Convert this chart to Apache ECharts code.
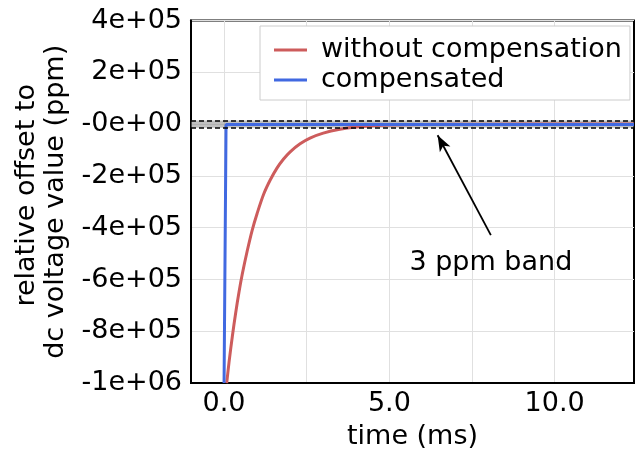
<!DOCTYPE html>
<html lang="en">
  <head>
    <meta charset="UTF-8" />
    <title>relative offset</title>
    <style>
      * {
        padding: 0;
        margin: 0;
      }
      #main {
        width: 636px;
        height: 457px;
        background: #fff;
      }
    </style>
    <script src="https://cdn.jsdelivr.net/npm/echarts@6/dist/echarts.min.js"></script>
  </head>
  <body>
    <div id="main"></div>
    <script type="text/javascript">
      // time (ms) / offset (ppm)
      const redTime = [0.08, 0.15, 0.25, 0.35, 0.45, 0.55, 0.7, 0.85, 1.0, 1.2, 1.4, 1.6, 1.8, 2.0, 2.3, 2.6, 3.0, 3.5, 4.0, 4.5, 5.0, 6.0, 8.0, 10.0, 12.4]
      const redValue = [-1000000, -920000, -820000, -730000, -650000, -580000, -490000, -410000, -345000, -270000, -215000, -170000, -135000, -107000, -76000, -54000, -35000, -20000, -11000, -6500, -3500, -1200, -150, 0, 0]
      const blueTime = [0.0, 0.06, 12.4]
      const blueValue = [-1000000, -2000, -2000]
      const seriesNames = ['without compensation', 'compensated']
      const yTickLabels = ['-1e+06', '-8e+05', '-6e+05', '-4e+05', '-2e+05', '-0e+00', '2e+05', '4e+05']
      const xLabelValues = [0, 5, 10]
      const xGridValues = [0, 2.5, 5, 7.5, 10]
      const band = [-14000, 14000]

      const font = 'DejaVu Sans'
      const chart = echarts.init(document.getElementById('main'))

      const option = {
        animation: false,
        backgroundColor: '#fff',
        grid: {
          left: 191,
          right: 2,
          top: 20.5,
          bottom: 65.3,
          show: true,
          borderColor: '#000',
          borderWidth: 2,
        },
        legend: {
          data: seriesNames,
          orient: 'vertical',
          left: 260,
          top: 26,
          selectedMode: false,
          icon: 'rect',
          itemWidth: 33,
          itemHeight: 3,
          itemGap: 0,
          padding: [9, 8, 5, 14],
          backgroundColor: '#fff',
          borderColor: '#cccccc',
          borderWidth: 1,
          textStyle: {
            fontFamily: font,
            fontSize: 27,
            color: '#000',
            lineHeight: 30,
            padding: [0, 0, 0, 9],
          },
        },
        xAxis: {
          type: 'value',
          min: -1,
          max: 12.4,
          name: 'time (ms)',
          nameLocation: 'middle',
          nameGap: 37,
          nameTextStyle: { fontFamily: font, fontSize: 27, color: '#000', lineHeight: 30 },
          axisLine: { onZero: false, lineStyle: { color: '#000', width: 2 } },
          axisTick: { show: false, customValues: xGridValues },
          axisLabel: {
            customValues: xLabelValues,
            margin: 7,
            fontFamily: font,
            fontSize: 27,
            color: '#000',
            formatter: (v) => v.toFixed(1),
          },
          splitLine: { show: true, lineStyle: { color: '#e0e0e0', width: 1 } },
        },
        yAxis: {
          type: 'value',
          min: -1000000,
          max: 400000,
          interval: 200000,
          name: '{a|relative offset to}\n{b|dc voltage value (ppm)}',
          nameLocation: 'middle',
          nameGap: 121,
          nameTextStyle: {
            fontFamily: font,
            fontSize: 27,
            color: '#000',
            lineHeight: 29,
            rich: {
              a: { fontFamily: font, fontSize: 27, lineHeight: 29, padding: [0, 0, 0, 13] },
              b: { fontFamily: font, fontSize: 27, lineHeight: 29 },
            },
          },
          axisLine: { show: true, onZero: false, lineStyle: { color: '#000', width: 2 } },
          axisTick: { show: false },
          axisLabel: {
            margin: 9,
            fontFamily: font,
            fontSize: 27,
            color: '#000',
            formatter: (v, i) => yTickLabels[i],
          },
          splitLine: { show: true, lineStyle: { color: '#e0e0e0', width: 1 } },
        },
        series: [
          {
            name: seriesNames[0],
            type: 'line',
            data: redTime.map((t, i) => [t, redValue[i]]),
            smooth: 0.3,
            showSymbol: false,
            color: '#cd5c5c',
            lineStyle: { width: 3 },
            markArea: {
              silent: true,
              itemStyle: { color: 'rgba(140,140,140,0.55)' },
              data: [[{ yAxis: band[0], x: 191 }, { yAxis: band[1], x: 634 }]],
            },
          },
          {
            name: seriesNames[1],
            type: 'line',
            data: blueTime.map((t, i) => [t, blueValue[i]]),
            showSymbol: false,
            color: '#4169e1',
            lineStyle: { width: 3 },
            z: 3,
            markLine: {
              silent: true,
              symbol: 'none',
              z: 5,
              label: { show: false },
              lineStyle: { color: '#000', type: [5, 3], width: 1.5 },
              data: [
                { yAxis: band[0] },
                { yAxis: band[1] },
                [
                  { coord: [8.07, -428400], symbol: 'none', lineStyle: { type: 'solid', width: 1.8 } },
                  { coord: [6.46, -43000], symbol: 'arrow', symbolSize: [9, 16] },
                ],
              ],
            },
            markPoint: {
              silent: true,
              symbol: 'rect',
              symbolSize: 1,
              itemStyle: { color: 'rgba(0,0,0,0)' },
              data: [{ coord: [8.07, -535000], value: 0 }],
              label: {
                show: true,
                position: 'inside',
                formatter: '3 ppm band',
                fontFamily: font,
                fontSize: 27,
                color: '#000',
              },
            },
          },
        ],
      }

      chart.setOption(option)
    </script>
  </body>
</html>
